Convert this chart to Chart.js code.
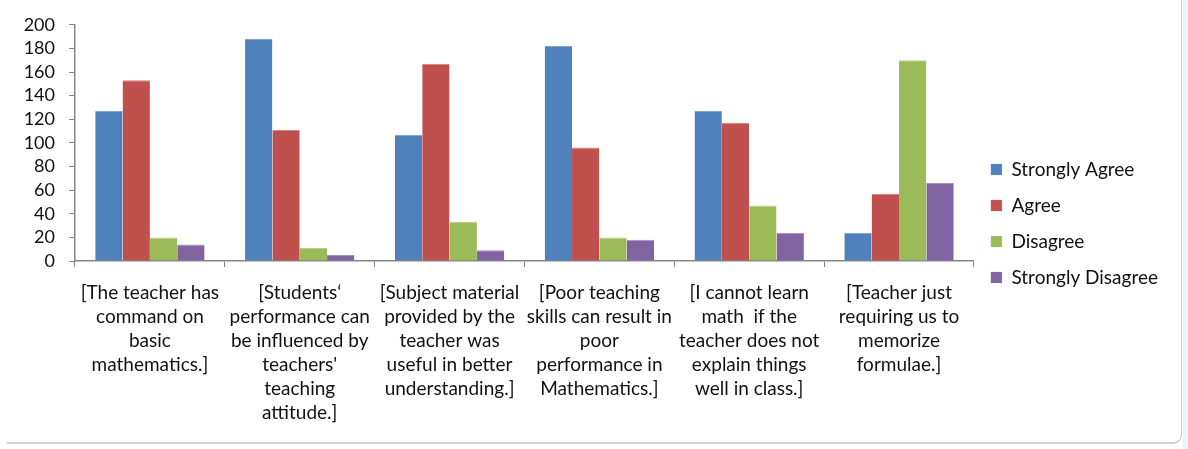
<!DOCTYPE html>
<html>
<head>
<meta charset="utf-8">
<script src="https://cdn.jsdelivr.net/npm/chart.js@4.4.1/dist/chart.umd.min.js"></script>
<style>
  html,body{margin:0;padding:0;background:#fff;overflow:hidden;}
  #wrap{position:relative;width:1188px;height:449px;}
  #frame{position:absolute;left:7px;top:-4px;width:1175px;height:448px;border-right:1px solid #c9c9c9;border-bottom:2px solid #d2d2d2;border-radius:0 0 9px 0;box-sizing:border-box;pointer-events:none;}
  #strip{position:absolute;left:1183px;top:0;width:5px;height:449px;background:#eef2f6;}
  canvas{position:absolute;left:0;top:0;}
</style>
</head>
<body>
<div id="wrap">
<canvas id="c" width="1188" height="449"></canvas>
<div id="frame"></div>
<div id="strip"></div>
</div>
<script>
const categories = [
  ["[The teacher has","command on","basic","mathematics.]"],
  ["[Students‘","performance can","be influenced by","teachers'","teaching","attitude.]"],
  ["[Subject material","provided by the","teacher was","useful in better","understanding.]"],
  ["[Poor teaching","skills can result in","poor","performance in","Mathematics.]"],
  ["[I cannot learn","math  if the","teacher does not","explain things","well in class.]"],
  ["[Teacher just","requiring us to","memorize","formulae.]"]
];
const seriesNames = ["Strongly Agree","Agree","Disagree","Strongly Disagree"];
const stronglyAgree    = [127, 188, 107, 182, 127, 24];
const agree            = [153, 111, 167, 96, 117, 57];
const disagree         = [20, 11, 33, 20, 47, 170];
const stronglyDisagree = [14, 5, 9, 18, 24, 66];
const yTicks = [0,20,40,60,80,100,120,140,160,180,200];

const colors = ["#4F81BD","#C0504D","#9BBB59","#8064A2"];
const borders = ["#7FA2CF","#D27F7D","#B7CF8A","#A08CC0"];
const values = [stronglyAgree, agree, disagree, stronglyDisagree];
const FONT = "Lato, 'Open Sans', sans-serif";

new Chart(document.getElementById('c'), {
  type: 'bar',
  data: {
    labels: categories,
    datasets: seriesNames.map((n,i)=>({
      label: n,
      data: values[i],
      backgroundColor: colors[i],
      borderColor: borders[i],
      borderWidth: { top: 1, left: 0, right: 0, bottom: 0 },
      categoryPercentage: 0.73,
      barPercentage: 1.0
    }))
  },
  options: {
    responsive: false,
    animation: false,
    layout: { padding: { left: 0, top: 23, right: 20, bottom: 25 } },
    plugins: {
      legend: {
        position: 'right',
        align: 'center',
        labels: {
          boxWidth: 11, boxHeight: 11,
          padding: 17,
          color: '#111',
          font: { family: FONT, size: 19 }
        }
      },
      tooltip: { enabled: false }
    },
    scales: {
      x: {
        afterFit: (s) => { s.height = 163; },
        grid: { display: true, drawOnChartArea: false, offset: true, color: '#868686', tickLength: 6 },
        border: { color: '#868686', width: 1.5 },
        ticks: {
          color: '#111', maxRotation: 0, minRotation: 0, autoSkip: false,
          font: { family: FONT, size: 19, lineHeight: '24px' }, padding: 14
        }
      },
      y: {
        min: 0, max: 200,
        afterFit: (s) => { s.width = 75; },
        afterBuildTicks: (axis) => { axis.ticks = yTicks.map(v => ({ value: v })); },
        grid: { display: true, drawOnChartArea: false, color: '#868686', tickLength: 6 },
        border: { color: '#868686', width: 1.5 },
        ticks: { color: '#111', autoSkip: false, font: { family: FONT, size: 18 }, padding: 14 }
      }
    }
  }
});
</script>
</body>
</html>
